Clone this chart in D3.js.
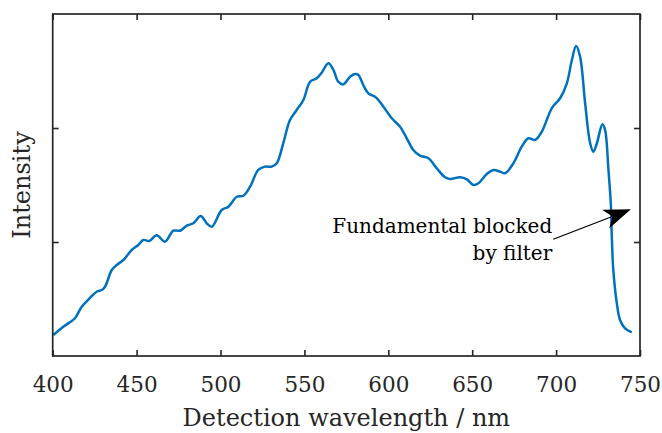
<!DOCTYPE html>
<html><head><meta charset="utf-8">
<script src="https://cdn.jsdelivr.net/npm/d3@7"></script>
<style>body{margin:0;background:#fff;} svg{display:block;}</style>
</head><body>
<svg id="chart" width="662" height="433"></svg>
<script>
// ---- data ----
const wavelength = [400.4,406.3,411.3,413.3,417.3,422.2,426.2,429.2,431.2,435.2,438.1,442.1,447.1,451.0,454.0,457.6,462.0,466.9,471.9,475.9,479.9,483.8,488.2,491.8,494.8,500.7,504.7,509.7,513.6,517.6,522.5,526.5,530.5,533.5,537.4,541.4,545.4,549.4,553.4,557.4,560.3,564.3,567.3,570.2,573.2,577.2,580.2,582.2,585.1,588.1,592.1,594.1,597.1,602.1,607.0,611.0,614.9,618.9,623.9,628.9,633.8,636.8,642.8,646.8,650.7,653.7,658.7,662.6,666.6,669.6,674.5,679.5,683.5,687.5,691.5,697.4,702.4,706.4,709.4,711.9,714.3,717.3,720.3,722.2,724.3,727.6,729.2,731.2,732.6,733.2,734.1,736.2,738.1,741.1,745.1];
const intensity = [0.184,0.257,0.307,0.331,0.432,0.509,0.564,0.579,0.608,0.754,0.798,0.842,0.930,0.974,1.018,1.009,1.059,1.003,1.099,1.099,1.143,1.164,1.228,1.164,1.134,1.281,1.310,1.397,1.406,1.485,1.632,1.661,1.661,1.690,1.866,2.070,2.158,2.246,2.406,2.436,2.485,2.568,2.509,2.406,2.383,2.450,2.474,2.465,2.377,2.304,2.275,2.246,2.187,2.085,2.011,1.910,1.807,1.757,1.734,1.646,1.568,1.553,1.568,1.550,1.500,1.515,1.596,1.632,1.617,1.603,1.690,1.836,1.910,1.895,1.968,2.173,2.261,2.392,2.596,2.719,2.625,2.217,1.866,1.792,1.866,2.032,1.982,1.632,1.339,1.046,0.754,0.462,0.316,0.243,0.208];
const xTicks = [400,450,500,550,600,650,700,750];
const yTicks = [1,2];
const xLabel = "Detection wavelength / nm";
const yLabel = "Intensity";
const noteLines = ["Fundamental blocked","by filter"];
const arrowTail = [698.3, 1.024];
const arrowTip = [744.6, 1.287];

// ---- layout ----
const svg = d3.select("#chart");
const L = 52.7, R = 640, T = 14, B = 356;
const x = d3.scaleLinear().domain([400,750]).range([L,R]);
const y = d3.scaleLinear().domain([0,3]).range([B,T]);
const axisCol = "#262626";
const font = "'DejaVu Serif', serif";
const tickLen = 6;

// line
const pts = wavelength.map((w,i)=>[w,intensity[i]]);
svg.append("path")
  .datum(pts)
  .attr("d", d3.line().x(d=>x(d[0])).y(d=>y(d[1])).curve(d3.curveCatmullRom.alpha(0.5)))
  .attr("fill","none").attr("stroke","#0072BD").attr("stroke-width",2.5)
  .attr("stroke-linejoin","round");

// axes (inward ticks, mirrored)
const gB = svg.append("g").attr("transform",`translate(0,${B})`)
  .call(d3.axisBottom(x).tickValues(xTicks).tickSizeInner(-tickLen).tickSizeOuter(0).tickPadding(0).tickFormat(d3.format("d")));
const gT = svg.append("g").attr("transform",`translate(0,${T})`)
  .call(d3.axisTop(x).tickValues(xTicks).tickSizeInner(-tickLen).tickSizeOuter(0).tickFormat(""));
const gL = svg.append("g").attr("transform",`translate(${L},0)`)
  .call(d3.axisLeft(y).tickValues(yTicks).tickSizeInner(-tickLen).tickSizeOuter(0).tickFormat(""));
const gR = svg.append("g").attr("transform",`translate(${R},0)`)
  .call(d3.axisRight(y).tickValues(yTicks).tickSizeInner(-tickLen).tickSizeOuter(0).tickFormat(""));
[gB,gT,gL,gR].forEach(g=>{
  g.select(".domain").remove();
  g.selectAll(".tick line").attr("stroke",axisCol).attr("stroke-width",1.6);
});
gB.selectAll(".tick text").attr("fill",axisCol).attr("font-family",font).attr("font-size",21.5)
  .attr("dy",null).attr("y",36);
// box
svg.append("rect").attr("x",L).attr("y",T).attr("width",R-L).attr("height",B-T)
  .attr("fill","none").attr("stroke",axisCol).attr("stroke-width",1.7);

// labels
svg.append("text").attr("x",(L+R)/2).attr("y",426).attr("text-anchor","middle")
  .attr("font-family",font).attr("font-size",24).attr("fill",axisCol).text(xLabel);
svg.append("text").attr("transform",`translate(30,${(T+B)/2}) rotate(-90)`).attr("text-anchor","middle")
  .attr("font-family",font).attr("font-size",24).attr("fill",axisCol).text(yLabel);

// annotation
const tx = x(arrowTail[0]) - 1, ty = y(arrowTail[1]);
svg.append("text").attr("x",tx).attr("y",ty-6).attr("text-anchor","end")
  .attr("font-family",font).attr("font-size",20).attr("fill","#000").text(noteLines[0]);
svg.append("text").attr("x",tx).attr("y",ty+21).attr("text-anchor","end")
  .attr("font-family",font).attr("font-size",20).attr("fill","#000").text(noteLines[1]);

const x0 = x(arrowTail[0]), y0 = y(arrowTail[1]);
const x1 = x(arrowTip[0]), y1 = y(arrowTip[1]);
const dx = x1-x0, dy = y1-y0, len = Math.hypot(dx,dy);
const ux = dx/len, uy = dy/len, nx = -uy, ny = ux;
const HL = 27, HW = 10, notch = 20;
svg.append("line").attr("x1",x0).attr("y1",y0).attr("x2",x1-notch*ux).attr("y2",y1-notch*uy)
  .attr("stroke","#000").attr("stroke-width",1.3);
const head = [
  [x1,y1],
  [x1-HL*ux+HW*nx, y1-HL*uy+HW*ny],
  [x1-notch*ux, y1-notch*uy],
  [x1-HL*ux-HW*nx, y1-HL*uy-HW*ny]
];
svg.append("path").attr("d","M"+head.map(p=>p.join(",")).join("L")+"Z").attr("fill","#000");
</script>
</body></html>
